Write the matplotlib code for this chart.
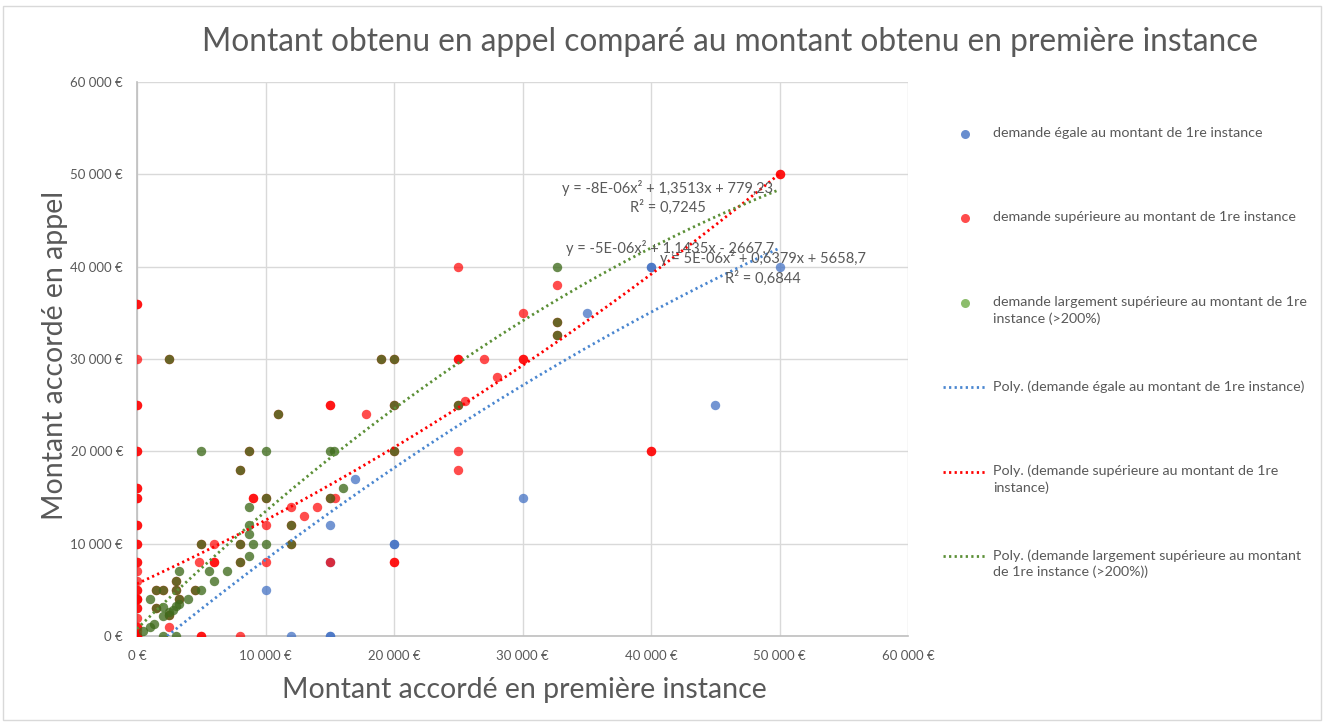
import numpy as np
import matplotlib.pyplot as plt
from matplotlib.lines import Line2D
from matplotlib.patches import Rectangle
from matplotlib.ticker import FuncFormatter, MultipleLocator

plt.rcParams['font.family'] = ['Lato', 'DejaVu Sans']

# demande égale au montant de 1re instance
blue_x = [0, 10000, 12000, 15000, 15000, 15000, 15000, 17000, 20000, 20000, 30000,
          35000, 40000, 40000, 45000, 50000]
blue_y = [0, 5000, 0, 0, 0, 8000, 12000, 17000, 10000, 10000, 15000,
          35000, 40000, 40000, 25000, 40000]

# demande supérieure au montant de 1re instance
red_x = [0, 0, 0, 0, 0, 0, 0, 0, 0, 0, 0, 0, 0, 0, 0, 0, 0, 0, 0, 0, 0, 0, 0, 0, 0, 0, 0, 0, 0, 0, 0, 0, 0,
         2500, 5000, 5000, 8000, 4800, 6000, 6000, 6000, 10000, 10000, 9000, 9000, 12000, 13000,
         14000, 15400, 15000, 15000, 15000, 17800, 20000, 20000, 25000, 25000, 25000, 27000,
         30000, 30000, 28000, 25500, 25000, 25000, 30000, 32700, 40000, 40000, 50000, 50000,
         # sous les points verts
         2500, 19000, 20000, 11000, 8700, 8000, 10000, 15000, 12000, 5000, 8000, 12000, 8000,
         3000, 1500, 2000, 3000, 4500, 3300, 1500, 2500, 20000, 25000, 32700, 32700, 20000]
red_y = [0, 0, 500, 1000, 1000, 2000, 3000, 3000, 4000, 4000, 5000, 5000, 6000, 7000, 8000, 8000,
         10000, 10000, 12000, 12000, 15000, 15000, 16000, 16000, 20000, 20000, 25000, 25000,
         30000, 36000, 36000, 0, 4000,
         1000, 0, 0, 0, 8000, 8000, 8000, 10000, 8000, 12000, 15000, 15000, 14000, 13000,
         14000, 15000, 8000, 25000, 25000, 24000, 8000, 8000, 40000, 30000, 30000, 30000,
         30000, 30000, 28000, 25500, 20000, 18000, 35000, 38000, 20000, 20000, 50000, 50000,
         30000, 30000, 30000, 24000, 20000, 18000, 15000, 15000, 12000, 10000, 10000, 10000, 8000,
         6000, 5000, 5000, 5000, 5000, 4000, 3000, 2300, 25000, 25000, 34000, 32600, 20000]

# demande largement supérieure au montant de 1re instance (>200%)
green_x = [2500, 19000, 20000, 11000, 8700, 8000, 10000, 15000, 12000, 5000, 8000, 12000, 8000,
           3000, 1500, 2000, 3000, 4500, 3300, 1500, 2500, 20000, 25000, 32700, 32700, 20000,
           5000, 10000, 15000, 15300, 8700, 16000, 8700, 8700, 9000, 10000, 8700, 3300, 5600,
           7000, 6000, 5000, 1000, 4000, 2000, 3000, 3300, 2800, 2000, 1300, 1000, 500, 2000,
           3000, 32700, 2500]
green_y = [30000, 30000, 30000, 24000, 20000, 18000, 15000, 15000, 12000, 10000, 10000, 10000, 8000,
           6000, 5000, 5000, 5000, 5000, 4000, 3000, 2300, 25000, 25000, 34000, 32600, 20000,
           20000, 20000, 20000, 20000, 14000, 16000, 12000, 11000, 10000, 10000, 8700, 7000, 7000,
           7000, 6000, 5000, 4000, 4000, 3100, 3200, 3500, 2800, 2200, 1300, 1000, 500, 0,
           0, 40000, 2600]

# tendances polynomiales (coefficients affichés)
blue_coef = [-5e-06, 1.1435, -2667.7]
red_coef = [5e-06, 0.6379, 5658.7]
green_coef = [-8e-06, 1.3513, 779.23]

legend_labels = [
    "demande égale au montant de 1re instance",
    "demande supérieure au montant de 1re instance",
    "demande largement supérieure au montant de 1re\ninstance (>200%)",
    "Poly. (demande égale au montant de 1re instance)",
    "Poly. (demande supérieure au montant de 1re\ninstance)",
    "Poly. (demande largement supérieure au montant\nde 1re instance (>200%))",
]

c_blue = '#4472c4'
c_red = '#ff0000'
c_green = '#3f6b1c'
c_text = '#595959'

fig = plt.figure(figsize=(13.25, 7.22), dpi=100)
ax = fig.add_axes([137 / 1325, 86 / 722, 771 / 1325, 554 / 722])

ax.scatter(blue_x, blue_y, s=46, color=c_blue, alpha=0.75, linewidths=0, zorder=3)
ax.scatter(red_x, red_y, s=46, color=c_red, alpha=0.7, linewidths=0, zorder=4)
ax.scatter(green_x, green_y, s=46, color=c_green, alpha=0.78, linewidths=0, zorder=5)

xs = np.linspace(0, 50000, 200)
dots = (0, (0.8, 1.2))
ax.plot(xs, np.polyval(blue_coef, xs), color='#4a86d0', lw=2, ls=dots, zorder=6)
ax.plot(xs, np.polyval(red_coef, xs), color='#ff0000', lw=2, ls=dots, zorder=6)
ax.plot(xs, np.polyval(green_coef, xs), color='#5b8f36', lw=2, ls=dots, zorder=6)

eq_kw = dict(fontsize=10.5, color=c_text, ha='center', va='center', multialignment='center',
             linespacing=1.35, zorder=7)
ax.text(41300, 47500, "y = -8E-06x² + 1,3513x + 779,23\nR² = 0,7245", **eq_kw)
ax.text(41500, 42000, "y = -5E-06x² + 1,1435x - 2667,7", **eq_kw)
ax.text(48700, 39850, "y = 5E-06x² + 0,6379x + 5658,7\nR² = 0,6844", **eq_kw)

ax.set_xlim(0, 60000)
ax.set_ylim(0, 60000)
ax.xaxis.set_major_locator(MultipleLocator(10000))
ax.yaxis.set_major_locator(MultipleLocator(10000))
euro = FuncFormatter(lambda v, p: f"{int(v):,}".replace(",", " ") + " €")
ax.xaxis.set_major_formatter(euro)
ax.yaxis.set_major_formatter(euro)
ax.tick_params(length=0, labelsize=9.5, labelcolor=c_text, pad=10)
ax.grid(True, color='#d9d9d9', lw=1)
ax.set_axisbelow(True)
for side in ['top', 'right']:
    ax.spines[side].set_visible(False)
for side in ['left', 'bottom']:
    ax.spines[side].set_color('#bfbfbf')
    ax.spines[side].set_linewidth(1.2)

fig.text(730 / 1325, 1 - 42 / 722, "Montant obtenu en appel comparé au montant obtenu en première instance",
         fontsize=22.8, color=c_text, ha='center', va='center')
fig.text(524 / 1325, 1 - 690 / 722, "Montant accordé en première instance",
         fontsize=20.5, color=c_text, ha='center', va='center')
fig.text(55 / 1325, 1 - 355 / 722, "Montant accordé en appel", rotation=90,
         fontsize=20.5, color=c_text, ha='center', va='center')

# légende
handles = [
    Line2D([], [], ls='none', marker='o', ms=6.5, mec='none', mfc=c_blue, alpha=0.8),
    Line2D([], [], ls='none', marker='o', ms=6.5, mec='none', mfc=c_red, alpha=0.7),
    Line2D([], [], ls='none', marker='o', ms=6.5, mec='none', mfc='#70ad47', alpha=0.8),
    Line2D([], [], color='#4a86d0', lw=2, ls=dots),
    Line2D([], [], color='#ff0000', lw=2, ls=dots),
    Line2D([], [], color='#5b8f36', lw=2, ls=dots),
]
for i, (h, lab) in enumerate(zip(handles, legend_labels)):
    ty = 134 + 84.4 * i
    fig.text(993 / 1325, 1 - (ty - 7) / 722, lab, fontsize=10.3, color=c_text,
             ha='left', va='top', linespacing=1.4)
    if h.get_linestyle() == 'None':
        h.set_data([965 / 1325], [1 - ty / 722])
    else:
        h.set_data([943 / 1325, 985 / 1325], [1 - ty / 722, 1 - ty / 722])
    h.set_transform(fig.transFigure)
    fig.add_artist(h)

fig.add_artist(Rectangle((3 / 1325, 2 / 722), 1318 / 1325, 714 / 722, transform=fig.transFigure,
                         fill=False, edgecolor='#d9d9d9', lw=1))

fig.savefig('out.png', dpi=100)
